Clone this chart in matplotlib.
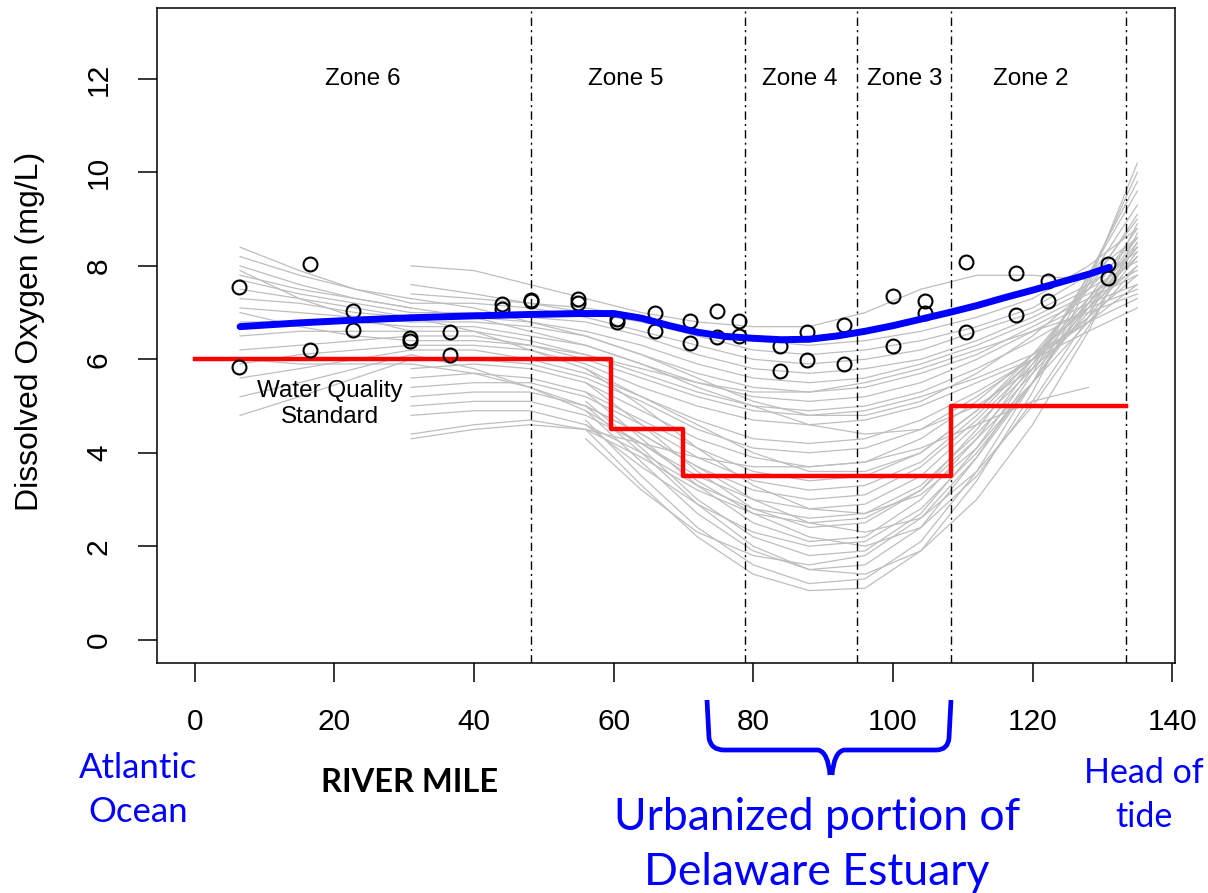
import numpy as np
import matplotlib
matplotlib.use("Agg")
import matplotlib.pyplot as plt
from matplotlib.path import Path
from matplotlib.patches import PathPatch

plt.rcParams['font.family'] = ['Liberation Sans', 'DejaVu Sans']

# ---------------- data ----------------
zone_bounds = [48.2, 78.8, 94.9, 108.3, 133.4]
zone_names = ["Zone 6", "Zone 5", "Zone 4", "Zone 3", "Zone 2"]
zone_label_x = [24.0, 61.8, 86.7, 101.7, 119.8]

std_x = [0, 59.6, 70.0, 108.3, 133.4]
std_y = [6.0, 4.5, 3.5, 5.0, 5.0]

blue_x = [6.5, 15, 23, 31, 40, 48, 55, 60, 64, 68, 72, 76, 80, 84, 88, 92, 96,
          100, 104, 108, 112, 116, 120, 124, 128, 131]
blue_y = [6.70, 6.78, 6.84, 6.89, 6.93, 6.96, 6.98, 6.98, 6.88, 6.72, 6.58, 6.49,
          6.45, 6.42, 6.43, 6.50, 6.60, 6.72, 6.86, 7.00, 7.15, 7.32, 7.48, 7.65,
          7.82, 7.97]

obs_x = [6.4, 6.4, 16.5, 16.5, 22.6, 22.6, 30.9, 30.9, 36.5, 36.5, 44.0, 44.0,
         48.1, 48.1, 54.9, 54.9, 60.5, 60.5, 65.9, 65.9, 70.9, 70.9, 74.8, 74.8,
         78.0, 78.0, 83.8, 83.8, 87.7, 87.7, 93.0, 93.0, 100.0, 100.0, 104.6, 104.6,
         110.4, 110.4, 117.6, 117.6, 122.2, 122.2, 130.8, 130.8]
obs_y = [7.54, 5.83, 8.03, 6.21, 7.03, 6.62, 6.45, 6.40, 6.58, 6.09, 7.18, 7.08,
         7.26, 7.24, 7.30, 7.20, 6.86, 6.80, 7.00, 6.60, 6.83, 6.36, 7.03, 6.47,
         6.83, 6.51, 6.28, 5.74, 6.58, 5.98, 6.73, 5.89, 7.35, 6.28, 7.24, 7.00,
         8.08, 6.58, 7.84, 6.94, 7.67, 7.24, 8.05, 7.75]

# model runs (gray), three groups of river-mile grids
nan = float('nan')
gray_a_x = [6.5, 15, 23, 31]
gray_a = [
    [8.4, 7.9, 7.5, 7.2], [8.2, 7.8, 7.5, 7.3], [8.0, 7.6, 7.3, 7.1],
    [7.8, 7.5, 7.3, 7.1], [7.7, 7.4, 7.2, 7.0], [7.5, 7.3, 7.1, 6.9],
    [7.3, 7.2, 7.0, 6.9], [7.1, 7.0, 6.9, 6.8], [6.8, 6.8, 6.8, 6.7],
    [6.5, 6.6, 6.6, 6.6], [6.2, 6.3, 6.4, 6.5], [5.9, 6.1, 6.2, 6.3],
    [5.6, 5.8, 6.0, 6.2], [5.2, 5.5, 5.8, 6.1], [4.8, 5.2, 5.6, 6.0],
    [7.9, 7.3, 6.9, 6.6], [7.0, 6.7, 6.5, 6.4], [6.0, 5.9, 5.9, 5.9],
]
gray_b_x = [31, 40, 48, 56, 64, 72, 80, 88, 96, 104, 112, 120, 128, 135]
gray_b = [
    [8.0, 7.9, 7.6, 7.3, 7.0, 6.8, 6.7, 6.7, 7.0, 7.5, 7.8, 7.8, 7.7, nan],
    [7.6, 7.4, 7.2, 7.1, 6.9, 6.6, 6.4, 6.3, 6.4, 6.6, 6.9, 7.3, 8.0, 8.8],
    [7.4, 7.3, 7.2, 7.0, 6.8, 6.5, 6.2, 6.1, 6.2, 6.4, 6.7, 7.1, 7.8, 8.6],
    [7.2, 7.2, 7.1, 6.9, 6.6, 6.3, 6.0, 5.9, 6.0, 6.2, 6.6, 7.0, 7.6, 8.3],
    [7.0, 7.0, 6.9, 6.8, 6.5, 6.1, 5.8, 5.7, 5.8, 6.0, 6.4, 6.9, 7.5, 8.1],
    [6.9, 6.9, 6.8, 6.6, 6.3, 5.9, 5.6, 5.5, 5.6, 5.9, 6.3, 6.8, 7.4, 7.9],
    [6.8, 6.8, 6.7, 6.5, 6.1, 5.7, 5.4, 5.3, 5.4, 5.7, 6.1, 6.7, 7.3, 7.8],
    [6.7, 6.7, 6.5, 6.3, 5.9, 5.5, 5.2, 5.1, 5.2, 5.5, 6.0, 6.6, 7.2, 7.6],
    [6.6, 6.6, 6.4, 6.1, 5.7, 5.3, 5.0, 4.9, 5.0, 5.3, 5.8, 6.4, 7.1, 7.5],
    [6.5, 6.5, 6.3, 6.0, 5.6, 5.2, 4.9, 4.8, 4.9, 5.2, 5.6, 6.1, 6.8, 7.3],
    [6.3, 6.3, 6.2, 5.9, 5.4, 5.0, 4.7, 4.6, 4.7, 5.0, 5.5, 6.0, 6.6, 7.1],
    [6.2, 6.2, 6.0, 5.7, 5.2, 4.7, 4.3, 4.2, 4.3, 4.7, 5.3, 6.0, 6.8, 7.6],
    [6.0, 6.0, 5.9, 5.6, 5.1, 4.5, 4.1, 4.0, 4.1, 4.5, 5.2, 6.0, 6.9, 7.8],
    [5.8, 5.9, 5.8, 5.5, 4.9, 4.3, 3.9, 3.7, 3.8, 4.3, 5.1, 6.1, 7.1, 8.0],
    [5.6, 5.7, 5.6, 5.3, 4.7, 4.1, 3.6, 3.4, 3.5, 4.0, 4.9, 6.0, 7.2, 8.2],
    [5.4, 5.5, 5.5, 5.2, 4.6, 3.9, 3.4, 3.2, 3.3, 3.8, 4.8, 6.0, 7.3, 8.4],
    [5.2, 5.3, 5.3, 5.0, 4.4, 3.7, 3.2, 3.0, 3.1, 3.7, 4.7, 5.9, 7.2, 8.5],
    [5.0, 5.1, 5.1, 4.8, 4.2, 3.5, 3.0, 2.8, 2.9, 3.5, 4.6, 5.8, 7.1, 8.4],
    [4.8, 4.9, 4.9, 4.6, 4.0, 3.3, 2.8, 2.6, 2.7, 3.3, 4.4, 5.7, 7.0, 8.3],
    [4.4, 4.6, 4.7, 4.5, 3.9, 3.2, 2.7, 2.5, 2.6, 3.2, 4.3, 5.5, 6.8, 8.0],
    [4.3, 4.5, 4.6, 4.5, 4.2, 3.9, 3.7, 3.7, 3.8, 4.1, 4.6, 5.1, 5.4, nan],
    [7.3, 7.1, 6.8, 6.5, 6.1, 5.6, 5.1, 4.8, 4.8, 5.1, 5.7, 6.5, 7.5, 8.6],
    [6.9, 6.6, 6.2, 5.8, 5.2, 4.6, 4.0, 3.6, 3.6, 4.0, 4.9, 6.1, 7.5, 9.1],
    [6.4, 6.4, 6.3, 6.1, 5.8, 5.5, 5.3, 5.3, 5.5, 5.8, 6.2, 6.6, 7.0, 7.4],
    [5.9, 5.7, 5.4, 5.0, 4.4, 3.7, 3.0, 2.5, 2.3, 2.6, 3.6, 5.0, 6.7, 8.5],
    [7.1, 6.9, 6.6, 6.3, 5.9, 5.4, 5.0, 4.6, 4.4, 4.5, 5.0, 5.8, 6.9, 8.2],
    [6.1, 5.8, 5.4, 4.9, 4.2, 3.4, 2.7, 2.2, 2.0, 2.4, 3.5, 5.1, 6.9, 8.9],
]
gray_c_x = [56, 64, 72, 80, 88, 96, 104, 112, 120, 128, 135]
gray_c = [
    [5.5, 4.6, 3.6, 2.8, 2.4, 2.5, 3.2, 4.5, 6.0, 7.6, 9.0],
    [5.3, 4.3, 3.3, 2.5, 2.1, 2.2, 3.0, 4.3, 5.9, 7.7, 9.3],
    [5.1, 4.1, 3.0, 2.2, 1.8, 1.9, 2.7, 4.1, 5.8, 7.8, 9.6],
    [4.9, 3.8, 2.7, 1.9, 1.5, 1.6, 2.4, 3.9, 5.7, 7.8, 9.8],
    [4.7, 3.5, 2.4, 1.6, 1.2, 1.3, 2.1, 3.6, 5.5, 7.7, 10.0],
    [4.5, 3.3, 2.2, 1.4, 1.05, 1.1, 1.9, 3.4, 5.3, 7.6, 10.2],
    [4.3, 3.2, 2.3, 1.8, 1.6, 1.8, 2.6, 3.9, 5.5, 7.3, 8.8],
    [4.6, 3.7, 2.9, 2.3, 2.0, 2.1, 2.8, 4.0, 5.5, 7.2, 8.6],
    [5.8, 5.0, 4.1, 3.3, 2.8, 2.7, 3.1, 4.1, 5.5, 7.1, 8.4],
    [5.0, 4.0, 2.9, 2.0, 1.5, 1.4, 1.9, 3.0, 4.6, 6.6, 8.7],
]

x_ticks = [0, 20, 40, 60, 80, 100, 120, 140]
y_ticks = [0, 2, 4, 6, 8, 10, 12]

# ---------------- figure ----------------
W, H = 1208, 893
fig = plt.figure(figsize=(W / 100, H / 100), dpi=100)
ax = fig.add_axes([157 / W, 1 - 663 / H, (1175 - 157) / W, (663 - 8) / H])
ax.set_xlim(-5.4, 140.4)
ax.set_ylim(-0.5, 13.52)

gray = '#BEBEBE'
for row in gray_a:
    ax.plot(gray_a_x, row, color=gray, lw=0.9, zorder=1)
for row in gray_b:
    ax.plot(gray_b_x, row, color=gray, lw=0.9, zorder=1)
for row in gray_c:
    ax.plot(gray_c_x, row, color=gray, lw=0.9, zorder=1)

for xb in zone_bounds:
    ax.axvline(xb, color='black', lw=1.0, linestyle=(0, (6, 3, 1.5, 3)), zorder=2)

ax.plot(std_x, std_y, drawstyle='steps-post', color='#FF0000', lw=3.2, zorder=3)

ax.plot(obs_x, obs_y, linestyle='none', marker='o', markersize=10,
        markerfacecolor='none', markeredgecolor='black', markeredgewidth=1.5, zorder=4)

ax.plot(blue_x, blue_y, color='#0000FF', lw=5, solid_capstyle='round', zorder=5)

for name, zx in zip(zone_names, zone_label_x):
    ax.text(zx, 12.0, name, ha='center', va='center', fontsize=17.5, zorder=6)

ax.text(19.4, 5.04, "Water Quality\nStandard", ha='center', va='center',
        fontsize=17.5, linespacing=1.25, zorder=6)

ax.set_xticks(x_ticks)
ax.set_yticks(y_ticks)
ax.tick_params(axis='both', direction='out', length=13.7, width=1.1, labelsize=21.5)
ax.tick_params(axis='x', pad=18.5)
ax.tick_params(axis='y', pad=18)
for lab in ax.get_yticklabels():
    lab.set_rotation(90)
    lab.set_va('center')
for sp in ax.spines.values():
    sp.set_linewidth(1.1)

fig.text(30 / W, 1 - 331 / H, "Dissolved Oxygen (mg/L)", rotation=90,
         ha='center', va='center', fontsize=23)

# ---------------- annotations below axis ----------------
blue = '#0000FF'
lato = ['Lato', 'DejaVu Sans']


def ftxt(xp, yp, s, **kw):
    fig.text(xp / W, 1 - yp / H, s, ha='center', va='baseline', family=lato, **kw)

ftxt(138, 778, "Atlantic", color=blue, fontsize=25)
ftxt(138, 822, "Ocean", color=blue, fontsize=25)
ftxt(410, 792, "RIVER MILE", color='black', fontsize=23.5, fontweight='bold')
ftxt(1144, 783, "Head of", color=blue, fontsize=24.5)
ftxt(1144, 827, "tide", color=blue, fontsize=24.5)
ftxt(817, 830, "Urbanized portion of", color=blue, fontsize=32)
ftxt(817, 885, "Delaware Estuary", color=blue, fontsize=32)


def P(x, y):
    return (x / W, 1 - y / H)

verts = [P(707, 700), P(709, 738), P(711, 750), P(724, 750), P(818, 750),
         P(828, 752), P(830, 775),
         P(832, 775), P(834, 752), P(844, 750), P(936, 750),
         P(948, 750), P(949, 738), P(951, 700)]
codes = [Path.MOVETO, Path.LINETO, Path.CURVE3, Path.CURVE3, Path.LINETO,
         Path.CURVE3, Path.CURVE3,
         Path.MOVETO, Path.CURVE3, Path.CURVE3, Path.LINETO,
         Path.CURVE3, Path.CURVE3, Path.LINETO]
brace = PathPatch(Path(verts, codes), transform=fig.transFigure, fill=False,
                  edgecolor=blue, lw=3.4, capstyle='butt', joinstyle='round')
fig.add_artist(brace)

fig.savefig("out.png", dpi=100)
